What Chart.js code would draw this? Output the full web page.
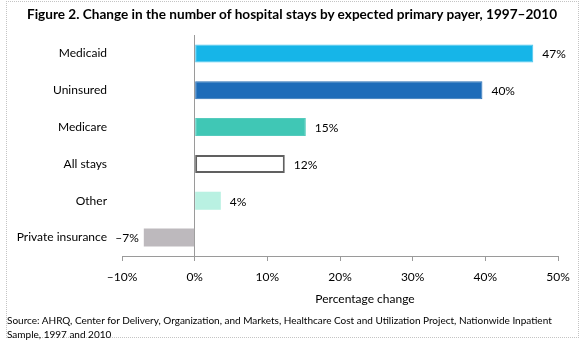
<!DOCTYPE html>
<html>
<head>
<meta charset="utf-8">
<script src="https://cdn.jsdelivr.net/npm/chart.js@4.4.1/dist/chart.umd.min.js"></script>
<style>
  html, body { margin: 0; padding: 0; background: #fff; }
  #wrap { position: relative; width: 582px; height: 344px; overflow: hidden; font-family: Lato, "Open Sans", sans-serif; }
  #frame { position: absolute; left: 6px; top: 1px; width: 573px; height: 337px; border: 1px dotted #c4c4c4; box-sizing: border-box; }
  #title { position: absolute; left: 1px; width: 582px; top: 6px; text-align: center; font-weight: bold; font-size: 13.6px; color: #000; white-space: nowrap; }
  #xtitle { position: absolute; left: 265px; width: 200px; top: 291px; text-align: center; font-size: 12px; color: #000; white-space: nowrap; }
  #source { position: absolute; left: 7px; top: 314px; font-size: 10px; line-height: 13.5px; color: #000; }
  canvas { position: absolute; left: 0; top: 0; }
</style>
</head>
<body>
<div id="wrap">
  <div id="frame"></div>
  <canvas id="c" width="582" height="344"></canvas>
  <div id="title">Figure 2. Change in the number of hospital stays by expected primary payer, 1997–2010</div>
  <div id="xtitle">Percentage change</div>
  <div id="source">Source: AHRQ, Center for Delivery, Organization, and Markets, Healthcare Cost and Utilization Project, Nationwide Inpatient<br>Sample, 1997 and 2010</div>
</div>
<script>
const categories = ["Medicaid", "Uninsured", "Medicare", "All stays", "Other", "Private insurance"];
const values = [46.6, 39.6, 15.3, 12.4, 3.6, -7.0];
const valueLabels = ["47%", "40%", "15%", "12%", "4%", "\u20137%"];
const tickValues = [-10, 0, 10, 20, 30, 40, 50];
const tickLabels = ["\u201310%", "0%", "10%", "20%", "30%", "40%", "50%"];
const barColors = ["#16b5e8", "#1d6cb9", "#40c7b5", "#ffffff", "#b9f1e2", "#bdb9bd"];
const barBorders = ["#4ec6ee", "#2a70b5", "#55cbbd", "#606060", "#c8f3e8", "#b3b0b3"];
const barBorderWidths = [1, 1, 1, 2, 0, 0];

const FONT = "Lato, 'Open Sans', sans-serif";

const valueLabelPlugin = {
  id: 'valueLabels',
  afterDatasetsDraw(chart) {
    const ctx = chart.ctx;
    const meta = chart.getDatasetMeta(0);
    ctx.save();
    ctx.font = "12px " + FONT;
    ctx.fillStyle = "#000";
    ctx.textBaseline = "middle";
    meta.data.forEach((bar, i) => {
      const v = values[i];
      if (v >= 0) {
        ctx.textAlign = "left";
        ctx.fillText(valueLabels[i], bar.x + 9, bar.y + 1);
      } else {
        ctx.textAlign = "right";
        ctx.fillText(valueLabels[i], bar.x - 5, bar.y + 1);
      }
    });
    ctx.restore();
  }
};

new Chart(document.getElementById('c'), {
  type: 'bar',
  data: {
    labels: categories,
    datasets: [{
      data: values,
      backgroundColor: barColors,
      borderColor: barBorders,
      borderWidth: barBorderWidths,
      borderSkipped: false,
      categoryPercentage: 1.0,
      barPercentage: 0.49
    }]
  },
  options: {
    indexAxis: 'y',
    responsive: false,
    animation: false,
    devicePixelRatio: 1,
    layout: { padding: { top: 35, right: 24, bottom: 38, left: 0 } },
    plugins: {
      legend: { display: false },
      tooltip: { enabled: false },
      title: { display: false }
    },
    scales: {
      x: {
        min: -10, max: 50,
        afterFit(scale) { scale.height = 50; },
        afterBuildTicks(scale) { scale.ticks = tickValues.map(v => ({ value: v })); },
        border: { display: true, color: "#9a9a9a", width: 1 },
        grid: {
          display: true,
          drawOnChartArea: true,
          drawTicks: true,
          tickLength: 5,
          tickColor: "#9a9a9a",
          color: (c) => (c.tick && c.tick.value === 0) ? "#9a9a9a" : "rgba(0,0,0,0)"
        },
        ticks: {
          padding: 9,
          color: "#000",
          font: { family: FONT, size: 12 },
          maxRotation: 0,
          callback: (val) => tickLabels[tickValues.indexOf(val)]
        },
        title: { display: false }
      },
      y: {
        afterFit(scale) { scale.width = 122; },
        border: { display: false },
        grid: { display: false, drawTicks: false },
        ticks: {
          padding: 15,
          color: "#000",
          font: { family: FONT, size: 12 }
        }
      }
    }
  },
  plugins: [valueLabelPlugin]
});
</script>
</body>
</html>
